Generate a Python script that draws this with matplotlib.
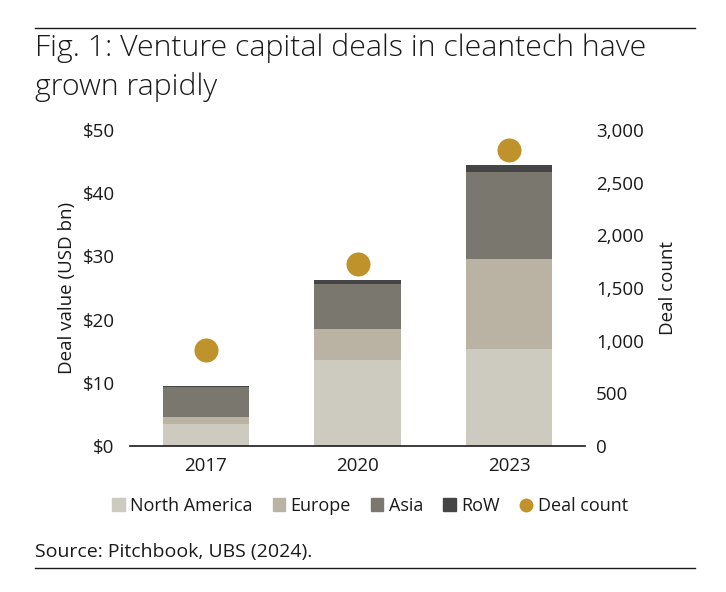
import numpy as np
import matplotlib.pyplot as plt
from matplotlib.lines import Line2D
from matplotlib.patches import Patch

plt.rcParams['font.family'] = ['Open Sans', 'DejaVu Sans']

# Data
years = ['2017', '2020', '2023']
north_america = [3.5, 13.6, 15.3]
europe = [1.1, 4.9, 14.3]
asia = [4.7, 7.1, 13.8]
row = [0.2, 0.6, 1.0]
deal_count = [910, 1730, 2810]

colors = ['#cdcbbf', '#bab3a3', '#7a776e', '#454545']
dot_color = '#c0922b'
text_color = '#1a1a1a'

fig = plt.figure(figsize=(7.26, 5.92), dpi=100)
ax = fig.add_axes([130 / 726, 1 - 446 / 592, 455 / 726, 316 / 592])

x = np.arange(len(years))
bottom = np.zeros(len(years))
for vals, c in zip([north_america, europe, asia, row], colors):
    ax.bar(x, vals, width=0.57, bottom=bottom, color=c, zorder=2)
    bottom += np.array(vals)

ax.set_xlim(-0.5, 2.5)
ax.set_ylim(0, 50)
ax.set_yticks(range(0, 51, 10))
ax.set_yticklabels([f'${v}' for v in range(0, 51, 10)])
ax.set_xticks(x)
ax.set_xticklabels(years)
ax.tick_params(axis='both', length=0, labelsize=13.5, colors=text_color)
ax.tick_params(axis='y', pad=11)
ax.tick_params(axis='x', pad=8)
for s in ['top', 'right', 'left']:
    ax.spines[s].set_visible(False)
ax.spines['bottom'].set_color(text_color)
ax.spines['bottom'].set_linewidth(1.2)
ax.set_ylabel('Deal value (USD bn)', fontsize=13.5, labelpad=5, color=text_color)

ax2 = ax.twinx()
ax2.scatter(x, deal_count, s=300, color=dot_color, zorder=3, linewidths=0)
ax2.set_ylim(0, 3000)
ax2.set_yticks(range(0, 3001, 500))
ax2.set_yticklabels([f'{v:,}' for v in range(0, 3001, 500)])
ax2.tick_params(axis='y', length=0, labelsize=13.5, colors=text_color, pad=8)
for s in ['top', 'right', 'left', 'bottom']:
    ax2.spines[s].set_visible(False)
ax2.set_ylabel('Deal count', fontsize=13.5, labelpad=11, color=text_color)

handles = [Patch(color=c) for c in colors]
handles.append(Line2D([], [], marker='o', linestyle='', color=dot_color, markersize=9))
labels = ['North America', 'Europe', 'Asia', 'RoW', 'Deal count']
fig.legend(handles, labels, loc='center', bbox_to_anchor=(370 / 726, 1 - 506 / 592),
           ncol=5, frameon=False, fontsize=13, handlelength=0.7, handleheight=0.7,
           handletextpad=0.3, columnspacing=1.1, labelcolor=text_color)

fig.text(35 / 726, 1 - 48 / 592, 'Fig. 1: Venture capital deals in cleantech have',
         fontsize=21.8, fontweight='light', va='center', ha='left', color=text_color)
fig.text(35 / 726, 1 - 87 / 592, 'grown rapidly',
         fontsize=21.8, fontweight='light', va='center', ha='left', color=text_color)
fig.add_artist(Line2D([35 / 726, 695 / 726], [1 - 28 / 592] * 2, color=text_color, lw=1))
fig.add_artist(Line2D([35 / 726, 695 / 726], [1 - 568 / 592] * 2, color=text_color, lw=1))
fig.text(35 / 726, 1 - 552 / 592, 'Source: Pitchbook, UBS (2024).',
         fontsize=14, va='center', ha='left', color=text_color)

fig.savefig('out.png', dpi=100)
